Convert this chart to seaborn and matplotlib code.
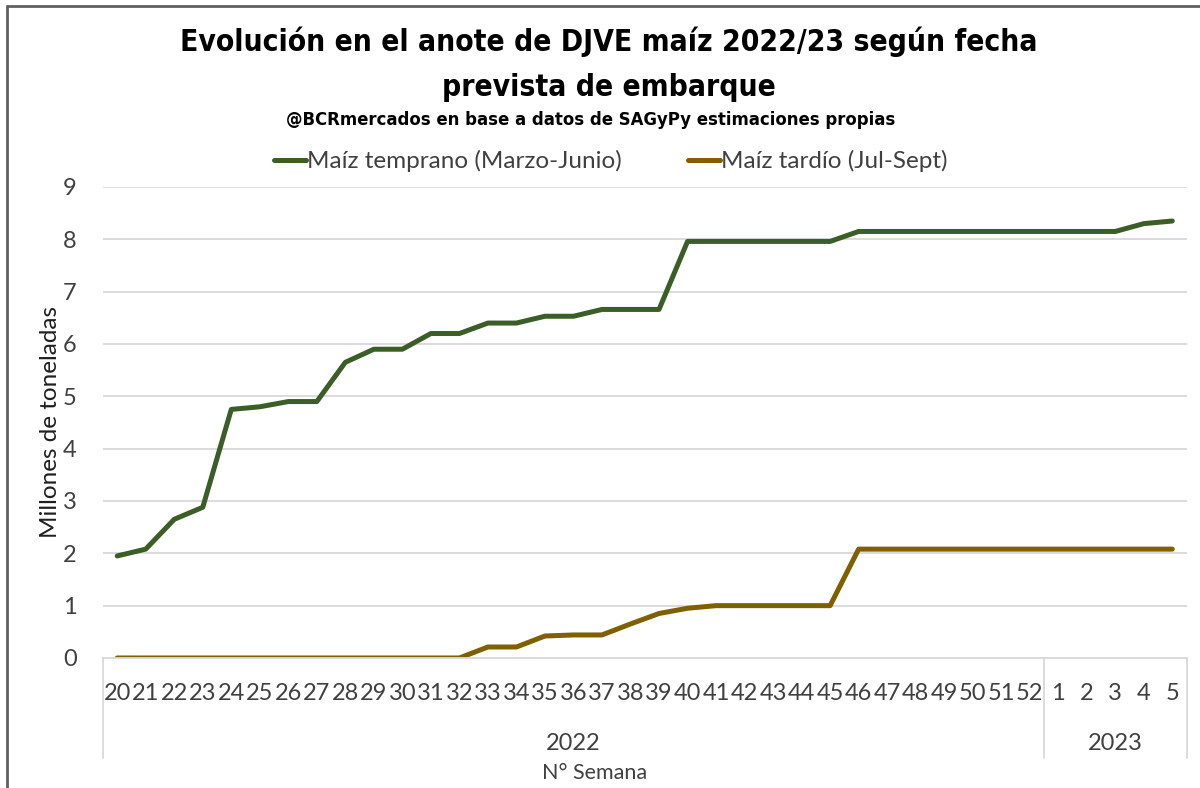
import matplotlib
matplotlib.use("Agg")
import matplotlib.pyplot as plt
import matplotlib.transforms as mtransforms
from matplotlib import font_manager
from matplotlib.lines import Line2D
import seaborn as sns
import pandas as pd

# Semanas (2022: 20-52, 2023: 1-5)
weeks = [str(w) for w in range(20, 53)] + ["1", "2", "3", "4", "5"]
years = ["2022"] * 33 + ["2023"] * 5

temprano = [1.95, 2.08, 2.65, 2.88, 4.75, 4.80, 4.90, 4.90, 5.65, 5.90,
            5.90, 6.20, 6.20, 6.40, 6.40, 6.53, 6.53, 6.66, 6.66, 6.66,
            7.96, 7.96, 7.96, 7.96, 7.96, 7.96, 8.15, 8.15, 8.15, 8.15,
            8.15, 8.15, 8.15, 8.15, 8.15, 8.15, 8.30, 8.35]
tardio = [0, 0, 0, 0, 0, 0, 0, 0, 0, 0,
          0, 0, 0, 0.21, 0.21, 0.42, 0.44, 0.44, 0.65, 0.85,
          0.95, 1.00, 1.00, 1.00, 1.00, 1.00, 2.08, 2.08, 2.08, 2.08,
          2.08, 2.08, 2.08, 2.08, 2.08, 2.08, 2.08, 2.08]

series_names = ["Maíz temprano (Marzo-Junio)", "Maíz tardío (Jul-Sept)"]
colors = ["#3B5E27", "#7F6000"]

df = pd.DataFrame({
    "pos": list(range(len(weeks))) * 2,
    "valor": temprano + tardio,
    "serie": [series_names[0]] * len(weeks) + [series_names[1]] * len(weeks),
})

sns.set_style("white")
plt.rcParams["font.family"] = ["Lato", "DejaVu Sans"]
txt_color = "#404040"

# condensed heavy font for the title, if there is one
cond_props = font_manager.FontProperties(family="DejaVu Sans", stretch="condensed", weight="bold")
has_cond = "Condensed" in font_manager.findfont(cond_props)
title_kw = dict(family=["DejaVu Sans"], fontweight="bold", color="black")
if has_cond:
    title_kw["fontstretch"] = "condensed"
    t_size, s_size = 21.5, 13.2
else:
    t_size, s_size = 19.3, 11.9

fig = plt.figure(figsize=(12, 7.88), dpi=100)
ax = fig.add_axes([0.0858, 0.165, 0.903, 0.5977])

sns.lineplot(data=df, x="pos", y="valor", hue="serie", palette=colors,
             linewidth=3.6, ax=ax, legend=False)

ax.set_xlim(-0.5, len(weeks) - 0.5)
ax.set_ylim(0, 9)
ax.set_yticks(range(0, 10))
ax.set_xticks(range(len(weeks)))
ax.set_xticklabels(weeks)
ax.tick_params(axis="x", length=0, pad=18, labelsize=17, labelcolor=txt_color)
ax.tick_params(axis="y", length=0, pad=19, labelsize=17, labelcolor=txt_color)
ax.yaxis.grid(True, color="#d9d9d9", linewidth=1.3)
ax.set_axisbelow(True)
for s in ["left", "right", "top"]:
    ax.spines[s].set_visible(False)
ax.spines["bottom"].set_color("#d9d9d9")
ax.spines["bottom"].set_linewidth(1.3)
ax.set_xlabel("")
ax.set_ylabel("Millones de toneladas", fontsize=17.5, color="#1f1f1f", labelpad=1)

# category separators for the year level
trans = mtransforms.blended_transform_factory(ax.transData, ax.transAxes)
for xs in [-0.5, 32.5, len(weeks) - 0.5]:
    ax.plot([xs, xs], [0, -0.212], transform=trans, color="#d9d9d9",
            linewidth=1.3, clip_on=False)
for yr in ["2022", "2023"]:
    idx = [i for i, y in enumerate(years) if y == yr]
    xc = (idx[0] + idx[-1]) / 2
    ax.text(xc, -0.182, yr, transform=trans, ha="center", va="center",
            fontsize=17, color=txt_color)

fig.text(595 / 1200, 1 - 773 / 788, "N° Semana", ha="center", va="center",
         fontsize=15.5, color=txt_color)

fig.text(0.507, 1 - 42 / 788, "Evolución en el anote de DJVE maíz 2022/23 según fecha",
         ha="center", va="center", fontsize=t_size, **title_kw)
fig.text(0.507, 1 - 87 / 788, "prevista de embarque",
         ha="center", va="center", fontsize=t_size, **title_kw)
fig.text(0.4925, 1 - 120 / 788, "@BCRmercados en base a datos de SAGyPy estimaciones propias",
         ha="center", va="center", fontsize=s_size, **title_kw)

handles = [Line2D([], [], color=c, linewidth=3.6) for c in colors]
fig.legend(handles, series_names, loc="center", ncol=2,
           bbox_to_anchor=(0.509, 1 - 161 / 788), frameon=False,
           fontsize=17.5, handlelength=1.3, handletextpad=0.05,
           columnspacing=2.75, labelcolor=txt_color)

# outer border (left and top visible)
fig.add_artist(Line2D([7 / 1200, 7 / 1200], [0, 1 - 6 / 788], color="#606060",
                      linewidth=2, transform=fig.transFigure))
fig.add_artist(Line2D([7 / 1200, 1], [1 - 6 / 788, 1 - 6 / 788], color="#606060",
                      linewidth=2, transform=fig.transFigure))

fig.savefig("out.png", dpi=100, facecolor="white")
